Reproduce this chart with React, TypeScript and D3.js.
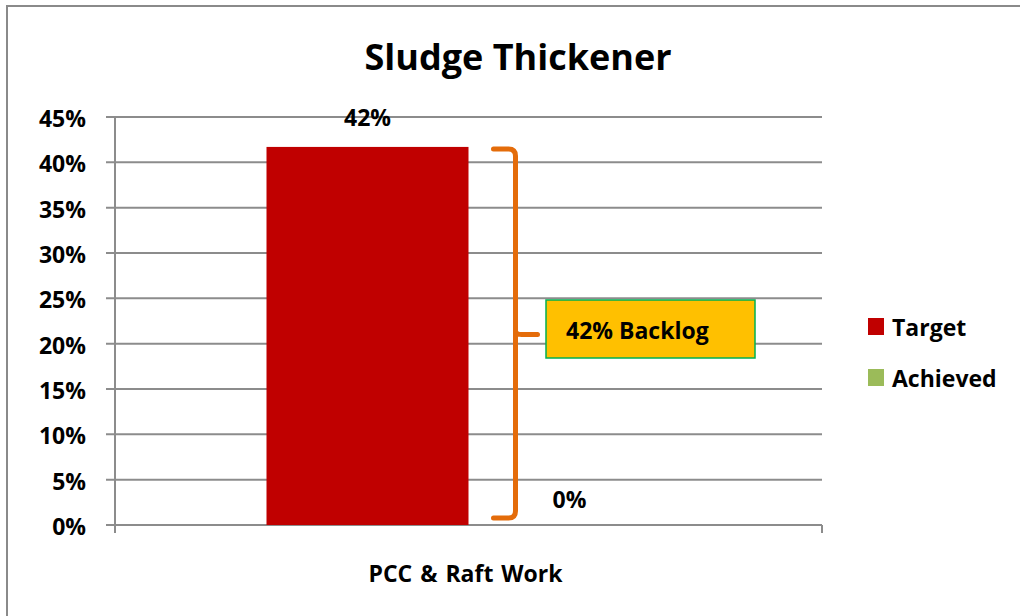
import React from "react";
import * as d3 from "d3";

const categories = ["PCC & Raft Work"];
const seriesNames = ["Target", "Achieved"];
const seriesColors = ["#C00000", "#9BBB59"];
const targetValues = [0.417];
const achievedValues = [0];
const yTicks = [0, 0.05, 0.1, 0.15, 0.2, 0.25, 0.3, 0.35, 0.4, 0.45];
const title = "Sludge Thickener";
const backlogLabel = "42% Backlog";

const W = 1020;
const H = 616;
const FONT = "'Open Sans', sans-serif";
const FS = 23;

export default function App() {
  const plotL = 115;
  const plotR = 822;
  const plotT = 117;
  const plotB = 525;

  const y = d3.scaleLinear().domain([0, 0.45]).range([plotB, plotT]);
  const x0 = d3.scaleBand().domain(categories).range([plotL, plotR]).paddingInner(0).paddingOuter(0);
  const groupW = x0.bandwidth() * (404 / 707);
  const x1 = d3.scaleBand().domain(seriesNames).range([0, groupW]).padding(0);
  const fmt = d3.format(".0%");

  const seriesValues = [targetValues, achievedValues];

  const cat = categories[0];
  const groupStart = (x0(cat) as number) + (x0.bandwidth() - groupW) / 2;
  const braceX = groupStart + x1.bandwidth() + 47;
  const braceTop = y(targetValues[0]) + 2;
  const braceBot = y(0) - 7;
  const braceMid = y(0.21);
  const r = 7;
  const bracePath = [
    `M${braceX - 22},${braceTop}`,
    `L${braceX - r},${braceTop}`,
    `Q${braceX},${braceTop} ${braceX},${braceTop + r}`,
    `L${braceX},${braceBot - r}`,
    `Q${braceX},${braceBot} ${braceX - r},${braceBot}`,
    `L${braceX - 22},${braceBot}`,
    `M${braceX},${braceMid - 4}`,
    `Q${braceX},${braceMid} ${braceX + 6},${braceMid}`,
    `L${braceX + 22},${braceMid}`,
  ].join(" ");

  return (
    <svg width={W} height={H} style={{ position: "absolute", left: 0, top: 0 }} fontFamily={FONT}>
      <rect x={0} y={0} width={W} height={H} fill="#fff" />
      <path d={`M7,${H} L7,6 L${W},6`} fill="none" stroke="#8a8a8a" strokeWidth={2} />

      <text x={518} y={70} textAnchor="middle" fontSize={36} fontWeight={700} fill="#000">
        {title}
      </text>

      {yTicks.map((t) => (
        <line key={t} x1={plotL - 9} x2={plotR} y1={y(t)} y2={y(t)} stroke="#8c8c8c" strokeWidth={2} />
      ))}
      <line x1={plotL} x2={plotL} y1={plotT} y2={plotB + 8} stroke="#8c8c8c" strokeWidth={2} />
      <line x1={plotR} x2={plotR} y1={plotB} y2={plotB + 8} stroke="#8c8c8c" strokeWidth={2} />
      {yTicks.map((t) => (
        <text key={"l" + t} x={86} y={y(t) + 10} textAnchor="end" fontSize={FS} fontWeight={700} fill="#000">
          {fmt(t)}
        </text>
      ))}

      {seriesNames.map((s, si) =>
        categories.map((c, ci) => {
          const v = seriesValues[si][ci];
          const bx = (x0(c) as number) + (x0.bandwidth() - groupW) / 2 + (x1(s) as number);
          return (
            <g key={s + c}>
              <rect x={bx} y={y(v)} width={x1.bandwidth()} height={y(0) - y(v)} fill={seriesColors[si]} />
              <text
                x={bx + x1.bandwidth() / 2}
                y={y(v) - (v === 0 ? 17 : 21)}
                textAnchor="middle"
                fontSize={FS}
                fontWeight={700}
                fill="#000"
              >
                {fmt(v)}
              </text>
            </g>
          );
        })
      )}

      <path d={bracePath} fill="none" stroke="#E46C0A" strokeWidth={5} strokeLinecap="round" strokeLinejoin="round" />

      <rect x={546} y={300} width={209} height={58} fill="#FFC000" stroke="#00B050" strokeWidth={1.5} />
      <text x={566} y={339} fontSize={FS} fontWeight={700} fill="#000">
        {backlogLabel}
      </text>

      {categories.map((c) => (
        <text
          key={c}
          x={(x0(c) as number) + x0.bandwidth() / 2 - 3}
          y={582}
          textAnchor="middle"
          fontSize={FS}
          fontWeight={700}
          wordSpacing={2}
          fill="#000"
        >
          {c}
        </text>
      ))}

      {seriesNames.map((s, i) => (
        <g key={s} transform={`translate(868, ${318 + i * 51})`}>
          <rect x={0} y={0} width={16} height={17} fill={seriesColors[i]} />
          <text x={24} y={18} fontSize={FS} fontWeight={700} fill="#000">
            {s}
          </text>
        </g>
      ))}
    </svg>
  );
}
